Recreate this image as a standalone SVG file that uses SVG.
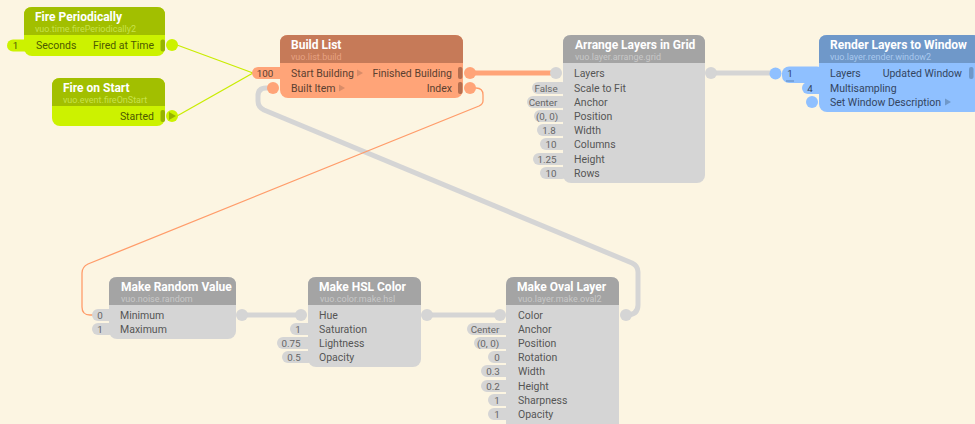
<svg xmlns="http://www.w3.org/2000/svg" width="975" height="424" viewBox="0 0 975 424">
<style>
.t{font-family:Roboto,"Liberation Sans",sans-serif;font-weight:bold;font-size:12px;fill:#fff}
.s{font-family:Roboto,"Liberation Sans",sans-serif;font-size:9px}
.l{font-family:Roboto,"Liberation Sans",sans-serif;font-size:10.5px}
.r{text-anchor:end}
.p{font-family:Roboto,"Liberation Sans",sans-serif;font-size:9.8px;text-anchor:middle}
.gray .b{fill:#d5d5d5}.gray .h{fill:#a4a4a4}.gray .s{fill:#c8c8c8}.gray .l{fill:#555}
.gp{fill:#d5d5d5}.gpt{fill:#666}
.green .b{fill:#ccf200}.green .h{fill:#a2bf00}.green .s{fill:#c8e24a}.green .l{fill:#4d5a00}
.orange .b{fill:#ffa478}.orange .h{fill:#c67a58}.orange .s{fill:#e6a282}.orange .l{fill:#5b4030}
.blue .b{fill:#8fc0ff}.blue .h{fill:#6f98c9}.blue .s{fill:#a9c8ee}.blue .l{fill:#33455f}
.thick{fill:none;stroke-width:5;stroke-linecap:round}
</style>
<rect width="975" height="424" fill="#fcf5e2"/>

<g id="connectors">
  <path d="M177,45 L253,73" stroke="#c9ec00" stroke-width="1.3" fill="none"/>
  <path d="M177,116 L253,73" stroke="#c9ec00" stroke-width="1.3" fill="none"/>
  <path class="thick" d="M470,73 L556,73" stroke="#ffa478"/>
  <path class="thick" d="M711,73 L775,73" stroke="#d5d5d5"/>
  <path class="thick" d="M242,315 L301,315" stroke="#d5d5d5"/>
  <path class="thick" d="M427,315 L500,315" stroke="#d5d5d5"/>
  <path class="thick" d="M626,315 Q638,315 638,305 L638,272 Q638,266 632,263 L264,110 Q258,107 258,101 L258,96 Q258,88 266,88 L272,88" stroke="#d5d5d5" stroke-linejoin="round"/>
  <path d="M470,88 L476,88 Q483,88 483,95 L483,101 Q483,104 479,106 L88,264 Q82,267 82,273 L82,307 Q82,315 90,315 L94,315" stroke="#ff9c6a" stroke-width="1.3" fill="none"/>
</g>

<g id="fire-periodically" class="green">
  <rect x="7" y="39.5" width="24" height="12" rx="6" fill="#ccf200"/>
  <text class="p" x="15.5" y="48.5" fill="#4d5a00">1</text>
  <rect class="b" x="24" y="7" width="141" height="49" rx="8"/>
  <path class="h" d="M24,35 L24,15 Q24,7 32,7 L157,7 Q165,7 165,15 L165,35 Z"/>
  <text class="t" x="35" y="21">Fire Periodically</text>
  <text class="s" x="35" y="32">vuo.time.firePeriodically2</text>
  <text class="l" x="36" y="49">Seconds</text>
  <text class="l r" x="154" y="49">Fired at Time</text>
  <rect x="160.5" y="39.5" width="4.5" height="12" rx="2" fill="#97b300"/>
  <circle cx="172" cy="45" r="6" fill="#ccf200"/>
</g>

<g id="fire-on-start" class="green">
  <rect class="b" x="52" y="78" width="113" height="48" rx="8"/>
  <path class="h" d="M52,106 L52,86 Q52,78 60,78 L157,78 Q165,78 165,86 L165,106 Z"/>
  <text class="t" x="63" y="92">Fire on Start</text>
  <text class="s" x="63" y="103">vuo.event.fireOnStart</text>
  <text class="l r" x="154" y="120">Started</text>
  <rect x="160.5" y="110" width="4.5" height="12" rx="2" fill="#97b300"/>
  <circle cx="172" cy="116" r="6" fill="#ccf200"/>
  <polygon points="169,112 169,120 176,116" fill="#97b300"/>
</g>

<g id="build-list" class="orange">
  <rect x="252" y="67" width="34" height="12" rx="6" fill="#ffa478"/>
  <text class="p" x="265" y="76.5" fill="#5b4030">100</text>
  <circle cx="273" cy="88" r="6" fill="#ffa478"/>
  <rect class="b" x="280" y="35" width="183" height="63" rx="8"/>
  <path class="h" d="M280,63 L280,43 Q280,35 288,35 L455,35 Q463,35 463,43 L463,63 Z"/>
  <text class="t" x="291" y="49">Build List</text>
  <text class="s" x="291" y="60">vuo.list.build</text>
  <text class="l" x="291" y="77">Start Building</text>
  <polygon points="357,69.5 357,76.5 363,73" fill="#d98c68"/>
  <text class="l" x="291" y="92">Built Item</text>
  <polygon points="339,84.5 339,91.5 345,88" fill="#d98c68"/>
  <text class="l r" x="452" y="77">Finished Building</text>
  <text class="l r" x="452" y="92">Index</text>
  <rect x="458" y="67" width="4.5" height="12" rx="2" fill="#b56e4e"/>
  <rect x="458" y="82" width="4.5" height="12" rx="2" fill="#b56e4e"/>
  <circle cx="470" cy="73" r="6" fill="#ffa478"/>
  <circle cx="470" cy="88" r="6" fill="#ffa478"/>
</g>

<g id="arrange-layers-in-grid" class="gray">
  <circle cx="556" cy="73" r="6" fill="#d5d5d5"/>
  <rect class="gp" x="532" y="82" width="36" height="12" rx="6"/><text class="p gpt" x="546" y="91.5">False</text>
  <rect class="gp" x="527" y="96" width="41" height="12" rx="6"/><text class="p gpt" x="543" y="105.5">Center</text>
  <rect class="gp" x="534" y="110" width="34" height="12" rx="6"/><text class="p gpt" x="547" y="119.5">(0, 0)</text>
  <rect class="gp" x="537" y="124" width="31" height="12" rx="6"/><text class="p gpt" x="549" y="133.5">1.8</text>
  <rect class="gp" x="540" y="138" width="28" height="12" rx="6"/><text class="p gpt" x="551" y="147.5">10</text>
  <rect class="gp" x="533" y="153" width="35" height="12" rx="6"/><text class="p gpt" x="547" y="162.5">1.25</text>
  <rect class="gp" x="540" y="167" width="28" height="12" rx="6"/><text class="p gpt" x="551" y="176.5">10</text>
  <rect class="b" x="563" y="35" width="142" height="148" rx="8"/>
  <path class="h" d="M563,63 L563,43 Q563,35 571,35 L697,35 Q705,35 705,43 L705,63 Z"/>
  <text class="t" x="575" y="49">Arrange Layers in Grid</text>
  <text class="s" x="575" y="60">vuo.layer.arrange.grid</text>
  <text class="l" x="574" y="77">Layers</text>
  <text class="l" x="574" y="92">Scale to Fit</text>
  <text class="l" x="574" y="106">Anchor</text>
  <text class="l" x="574" y="120">Position</text>
  <text class="l" x="574" y="134">Width</text>
  <text class="l" x="574" y="148">Columns</text>
  <text class="l" x="574" y="163">Height</text>
  <text class="l" x="574" y="177">Rows</text>
  <circle cx="711" cy="73" r="6" fill="#d5d5d5"/>
</g>

<g id="render-layers-to-window" class="blue">
  <rect x="782" y="66.5" width="42" height="16.5" rx="7" fill="#8fc0ff"/>
  <text class="p" x="790" y="77" fill="#33455f">1</text>
  <line x1="786" y1="81" x2="794" y2="81" stroke="#5f86b8" stroke-width="1"/>
  <circle cx="775.5" cy="73.5" r="6" fill="#8fc0ff"/>
  <rect x="802" y="82" width="24" height="12" rx="6" fill="#8fc0ff"/>
  <text class="p" x="810" y="91.5" fill="#33455f">4</text>
  <circle cx="812" cy="102" r="6" fill="#8fc0ff"/>
  <rect class="b" x="819" y="35" width="162" height="77" rx="8"/>
  <path class="h" d="M819,63 L819,43 Q819,35 827,35 L973,35 Q981,35 981,43 L981,63 Z"/>
  <text class="t" x="830" y="49">Render Layers to Window</text>
  <text class="s" x="830" y="60">vuo.layer.render.window2</text>
  <text class="l" x="830" y="77">Layers</text>
  <text class="l" x="830" y="92">Multisampling</text>
  <text class="l" x="830" y="106">Set Window Description</text>
  <polygon points="945,98.5 945,105.5 951,102" fill="#6f98c9"/>
  <text class="l r" x="962" y="77">Updated Window</text>
  <rect x="969" y="67" width="4.5" height="12" rx="2" fill="#6f98c9"/>
</g>

<g id="make-random-value" class="gray">
  <rect class="gp" x="92" y="309" width="23" height="12" rx="6"/><text class="p gpt" x="100" y="318.5">0</text>
  <rect class="gp" x="92" y="323" width="23" height="12" rx="6"/><text class="p gpt" x="100" y="332.5">1</text>
  <rect class="b" x="109" y="277" width="127" height="62" rx="8"/>
  <path class="h" d="M109,305 L109,285 Q109,277 117,277 L228,277 Q236,277 236,285 L236,305 Z"/>
  <text class="t" x="121" y="291">Make Random Value</text>
  <text class="s" x="121" y="302">vuo.noise.random</text>
  <text class="l" x="120" y="319">Minimum</text>
  <text class="l" x="120" y="333">Maximum</text>
  <circle cx="242" cy="315" r="6" fill="#d5d5d5"/>
</g>

<g id="make-hsl-color" class="gray">
  <circle cx="301" cy="315" r="6" fill="#d5d5d5"/>
  <rect class="gp" x="290" y="323" width="24" height="12" rx="6"/><text class="p gpt" x="298" y="332.5">1</text>
  <rect class="gp" x="277" y="337" width="37" height="12" rx="6"/><text class="p gpt" x="291" y="346.5">0.75</text>
  <rect class="gp" x="282" y="351" width="32" height="12" rx="6"/><text class="p gpt" x="294" y="360.5">0.5</text>
  <rect class="b" x="308" y="277" width="113" height="90" rx="8"/>
  <path class="h" d="M308,305 L308,285 Q308,277 316,277 L413,277 Q421,277 421,285 L421,305 Z"/>
  <text class="t" x="319" y="291">Make HSL Color</text>
  <text class="s" x="320" y="302">vuo.color.make.hsl</text>
  <text class="l" x="319" y="319">Hue</text>
  <text class="l" x="319" y="333">Saturation</text>
  <text class="l" x="319" y="347">Lightness</text>
  <text class="l" x="319" y="361">Opacity</text>
  <circle cx="427" cy="315" r="6" fill="#d5d5d5"/>
</g>

<g id="make-oval-layer" class="gray">
  <circle cx="500" cy="315" r="6" fill="#d5d5d5"/>
  <rect class="gp" x="467" y="323" width="45" height="12" rx="6"/><text class="p gpt" x="485" y="332.5">Center</text>
  <rect class="gp" x="474" y="337" width="38" height="12" rx="6"/><text class="p gpt" x="488" y="346.5">(0, 0)</text>
  <rect class="gp" x="488" y="351" width="24" height="12" rx="6"/><text class="p gpt" x="497" y="360.5">0</text>
  <rect class="gp" x="481" y="365" width="31" height="12" rx="6"/><text class="p gpt" x="493" y="374.5">0.3</text>
  <rect class="gp" x="481" y="380" width="31" height="12" rx="6"/><text class="p gpt" x="493" y="389.5">0.2</text>
  <rect class="gp" x="488" y="394" width="24" height="12" rx="6"/><text class="p gpt" x="497" y="403.5">1</text>
  <rect class="gp" x="488" y="408" width="24" height="12" rx="6"/><text class="p gpt" x="497" y="417.5">1</text>
  <rect class="b" x="506" y="277" width="113" height="160" rx="8"/>
  <path class="h" d="M506,305 L506,285 Q506,277 514,277 L611,277 Q619,277 619,285 L619,305 Z"/>
  <text class="t" x="517" y="291">Make Oval Layer</text>
  <text class="s" x="518" y="302">vuo.layer.make.oval2</text>
  <text class="l" x="518" y="319">Color</text>
  <text class="l" x="518" y="333">Anchor</text>
  <text class="l" x="518" y="347">Position</text>
  <text class="l" x="518" y="361">Rotation</text>
  <text class="l" x="518" y="375">Width</text>
  <text class="l" x="518" y="390">Height</text>
  <text class="l" x="518" y="404">Sharpness</text>
  <text class="l" x="518" y="418">Opacity</text>
  <circle cx="626" cy="315" r="6" fill="#d5d5d5"/>
</g>
</svg>
